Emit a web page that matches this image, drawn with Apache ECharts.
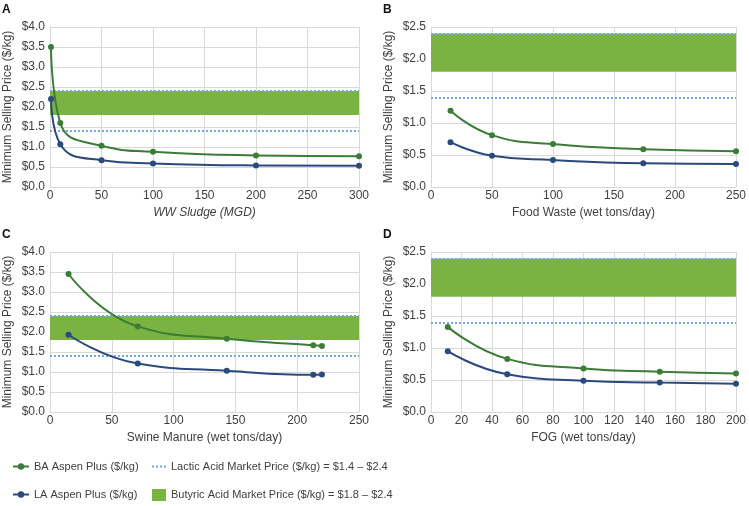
<!DOCTYPE html>
<html><head><meta charset="utf-8">
<script src="https://cdn.jsdelivr.net/npm/echarts@6/dist/echarts.min.js"></script>
<style>html,body{margin:0;padding:0;background:#fff}#c{width:749px;height:506px}</style>
</head><body><div id="c"></div>
<script>
// ---- data ----
const xA = [1, 10, 50, 100, 200, 300];
const baA = [3.5, 1.6, 1.03, 0.88, 0.79, 0.77];
const laA = [2.2, 1.07, 0.67, 0.59, 0.54, 0.53];
const xB = [16, 50, 100, 174, 250];
const baB = [1.19, 0.81, 0.67, 0.59, 0.56];
const laB = [0.70, 0.49, 0.42, 0.37, 0.36];
const xC = [15, 71, 143, 213, 220];
const baC = [3.45, 2.14, 1.83, 1.67, 1.65];
const laC = [1.93, 1.21, 1.03, 0.93, 0.94];
const xD = [11, 50, 100, 150, 200];
const baD = [1.33, 0.83, 0.68, 0.63, 0.60];
const laD = [0.95, 0.59, 0.49, 0.46, 0.44];
const lacticRange = [1.4, 2.4];
const butyricRange = [1.8, 2.4];
const panelLetters = ['A', 'B', 'C', 'D'];
const xNames = ['WW Sludge (MGD)', 'Food Waste (wet tons/day)', 'Swine Manure (wet tons/day)', 'FOG (wet tons/day)'];
const xMax = [300, 250, 250, 200];
const xStep = [50, 50, 50, 20];
const yMax = [4, 2.5, 4, 2.5];
const yStep = [0.5, 0.5, 0.5, 0.5];
const seriesNames = ['BA Aspen Plus ($/kg)', 'LA Aspen Plus ($/kg)'];
const lacticName = 'Lactic Acid Market Price ($/kg) = $1.4 \u2013 $2.4';
const butyricName = 'Butyric Acid Market Price ($/kg) = $1.8 \u2013 $2.4';
const yLabel = 'Minimum Selling Price ($/kg)';

const panels = [[xA, baA, laA], [xB, baB, laB], [xC, baC, laC], [xD, baD, laD]];

// ---- style ----
const FONT = 'Liberation Sans, Arial, sans-serif';
const TXT = '#404040';
const GRIDC = '#d9d9d9';
const GREEN = '#3b7d38';
const BLUE = '#2b4a7c';
const BAND = '#7ab342';
const DOT = '#6fa8e6';
const grids = [
  {left: 50, top: 27, width: 309, height: 160},
  {left: 431, top: 27, width: 309, height: 160},
  {left: 50, top: 252, width: 309, height: 160},
  {left: 431, top: 252, width: 309, height: 160}
];

const xAxes = [], yAxes = [], series = [], titles = [];
panels.forEach((p, i) => {
  xAxes.push({
    type: 'value', gridIndex: i, min: 0, max: xMax[i], interval: xStep[i],
    name: xNames[i], nameLocation: 'middle', nameGap: 20,
    nameTextStyle: {fontFamily: FONT, fontSize: 12, color: TXT, fontStyle: i === 0 ? 'italic' : 'normal'},
    axisLine: {show: true, lineStyle: {color: GRIDC}}, axisTick: {show: false},
    axisLabel: {fontFamily: FONT, fontSize: 12, color: TXT, margin: 3},
    splitLine: {show: true, lineStyle: {color: GRIDC, width: 1}}
  });
  yAxes.push({
    type: 'value', gridIndex: i, min: 0, max: yMax[i], interval: yStep[i],
    name: yLabel, nameLocation: 'middle', nameGap: 36, nameRotate: 90,
    nameTextStyle: {fontFamily: FONT, fontSize: 12, color: TXT},
    axisLine: {show: true, lineStyle: {color: GRIDC}}, axisTick: {show: false},
    axisLabel: {fontFamily: FONT, fontSize: 12, color: TXT, margin: 5, formatter: v => '$' + v.toFixed(1)},
    splitLine: {show: true, lineStyle: {color: GRIDC, width: 1}}
  });
  titles.push({text: panelLetters[i], left: grids[i].left - 48, top: grids[i].top - 23, padding: 0,
    textStyle: {fontFamily: FONT, fontSize: 12, fontWeight: 'bold', color: '#111'}});
  series.push({
    name: butyricName, type: 'line', xAxisIndex: i, yAxisIndex: i, data: [], z: 1,
    itemStyle: {color: BAND}, lineStyle: {color: BAND},
    markArea: {silent: true, itemStyle: {color: BAND}, data: [[{yAxis: butyricRange[0]}, {yAxis: butyricRange[1]}]]}
  });
  series.push({
    name: lacticName, type: 'line', xAxisIndex: i, yAxisIndex: i, data: [], z: 2, symbol: 'none',
    itemStyle: {color: DOT}, lineStyle: {color: DOT, type: 'dotted', width: 2},
    markLine: {silent: true, symbol: 'none', label: {show: false},
      lineStyle: {color: DOT, type: 'dotted', width: 2},
      data: lacticRange.map(v => ({yAxis: v}))}
  });
  [1, 2].forEach((k) => {
    const col = k === 1 ? GREEN : BLUE;
    series.push({
      name: seriesNames[k - 1], type: 'line', xAxisIndex: i, yAxisIndex: i, z: 5,
      data: p[0].map((x, j) => [x, p[k][j]]),
      smooth: 0.5, symbol: 'circle', symbolSize: 6,
      itemStyle: {color: col}, lineStyle: {color: col, width: 2}
    });
  });
});

const dottedIcon = 'path://M0,0h2v2h-2z M4,0h2v2h-2z M8,0h2v2h-2z M12,0h2v2h-2z';

const chart = echarts.init(document.getElementById('c'), null, {renderer: 'canvas'});
chart.setOption({
  animation: false,
  backgroundColor: '#fff',
  title: titles,
  grid: grids,
  xAxis: xAxes,
  yAxis: yAxes,
  legend: [
    {data: seriesNames, orient: 'vertical', left: 12, top: 461, height: 44, padding: 0, itemGap: 17, itemWidth: 16, itemHeight: 8,
      textStyle: {fontFamily: FONT, fontSize: 11, color: TXT}},
    {data: [{name: lacticName, icon: dottedIcon}, {name: butyricName, icon: 'rect'}], orient: 'vertical', left: 152, top: 461, height: 44, padding: 0, itemGap: 17, itemWidth: 14, itemHeight: 12,
      textStyle: {fontFamily: FONT, fontSize: 11, color: TXT}}
  ],
  series: series
});
</script></body></html>
